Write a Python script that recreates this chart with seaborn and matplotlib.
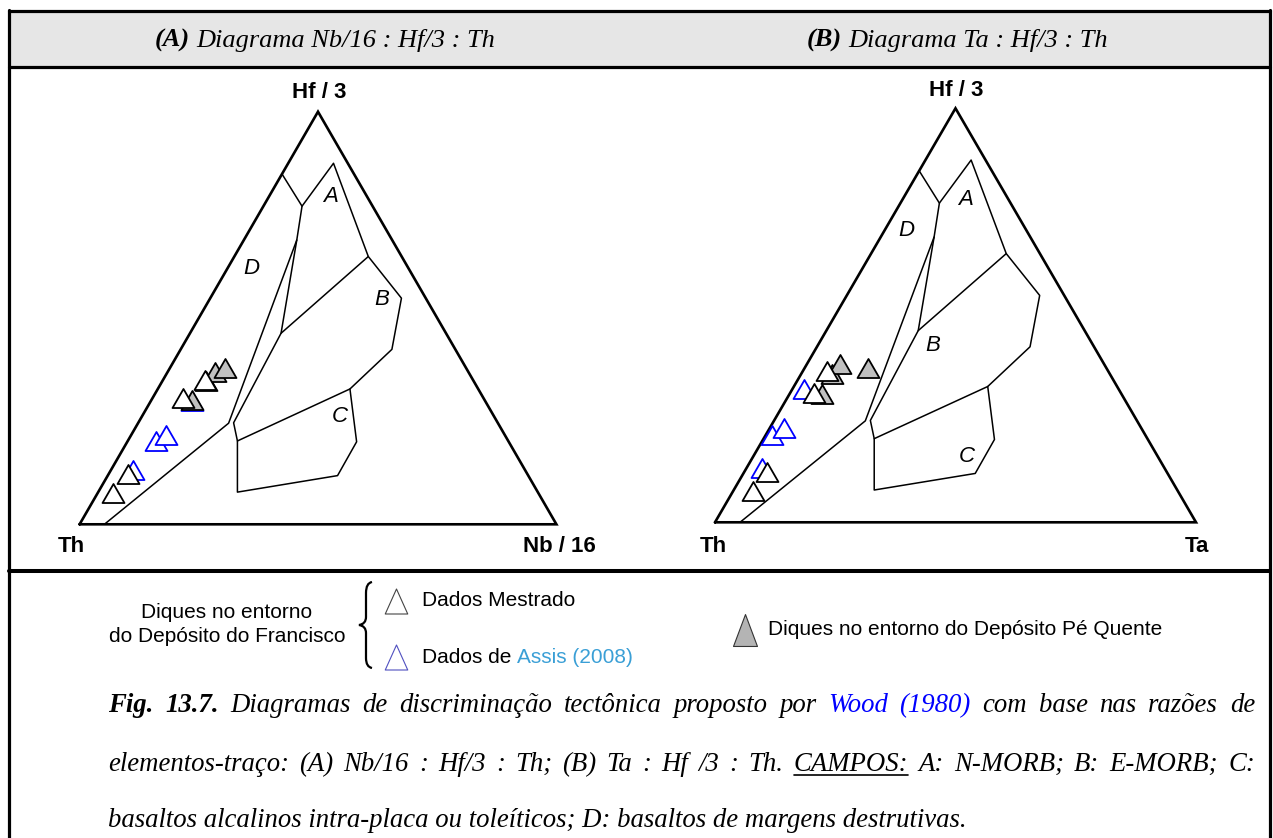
import numpy as np
import pandas as pd
import seaborn as sns
import matplotlib.pyplot as plt
from matplotlib.lines import Line2D
from matplotlib.patches import Rectangle, PathPatch
from matplotlib.path import Path

sns.set_theme(style="white")
plt.rcParams['font.family'] = ['Liberation Sans', 'DejaVu Sans']
plt.rcParams['text.color'] = 'black'

# Wood (1980) field vertices, % (Th, Hf/3, Nb/16 or Ta) - same fields in both diagrams
v_th = [15.1, 14.8, 3.0, 7.0, 5.1, 13.3, 26.9, 31.9, 40.0, 63.0, 56.8, 55.4, 34.6, 20.0, 56.5, 94.8]
v_hf = [84.9, 77.1, 87.5, 64.9, 54.8, 42.4, 32.8, 20.0, 11.8, 7.8, 20.2, 24.6, 46.3, 68.9, 24.5, 0.0]
v_nb = [0.0, 8.1, 9.5, 28.1, 40.1, 44.3, 40.3, 48.1, 48.2, 29.2, 23.0, 20.0, 19.1, 11.1, 19.0, 5.2]
# boundary polylines (vertex numbers, 1-based)
limites = [[1, 2, 14, 15, 16],
           [2, 3, 4, 5, 6, 7, 8, 9, 10, 11, 12, 13, 14],
           [13, 4],
           [11, 7]]

grupos = ["Assis"] * 4 + ["Pe Quente"] * 4 + ["Mestrado"] * 4

# (A) Nb/16 : Hf/3 : Th
a_th = [73.9, 71.0, 82.2, 61.4, 61.3, 56.2, 53.1, 50.6, 89.3, 83.8, 63.0, 56.2]
a_hf = [20.3, 21.7, 13.2, 30.0, 30.1, 34.7, 36.8, 37.8, 7.5, 12.2, 30.7, 34.9]
a_nb = [5.8, 7.3, 4.6, 8.6, 8.6, 9.1, 10.1, 11.6, 3.2, 4.0, 6.3, 8.9]

# (B) Ta : Hf/3 : Th
b_th = [65.5, 77.5, 74.2, 83.7, 62.2, 57.7, 55.0, 49.5, 88.4, 83.2, 63.9, 58.5]
b_hf = [32.1, 21.1, 22.8, 13.0, 31.0, 35.8, 38.2, 37.2, 7.5, 12.1, 31.2, 36.5]
b_ta = [2.4, 1.4, 3.0, 3.3, 6.8, 6.5, 6.8, 13.3, 4.1, 4.7, 4.9, 5.0]

W, H = 1273, 838
fig = plt.figure(figsize=(W / 100, H / 100), dpi=100)
fig.patch.set_facecolor("white")


def fx(x):
    return x / W


def fy(y):
    return 1 - y / H


def tern(th, hf, nb):
    th, hf, nb = map(np.asarray, (th, hf, nb))
    tot = th + hf + nb
    return 100 * (nb + hf / 2) / tot, 100 * hf / tot


def triangulo(larg):
    return Path([(0, 1), (-larg, -1), (larg, -1), (0, 1)], closed=True)


# frame
fig.add_artist(Rectangle((fx(9), fy(67)), fx(1270) - fx(9), fy(11) - fy(67),
                         transform=fig.transFigure, facecolor="#e6e6e6", edgecolor="none"))
for x0, y0, x1, y1, lw in [(9, 11, 1270, 11, 2.3), (9, 67, 1270, 67, 2.3), (9, 571, 1270, 571, 2.9),
                           (9, 10, 9, 838, 2.3), (1270, 10, 1270, 838, 2.3)]:
    fig.add_artist(Line2D([fx(x0), fx(x1)], [fy(y0), fy(y1)], color="black", lw=lw,
                          transform=fig.transFigure))

estilos = {"Assis": dict(color="white", edgecolor="#0000ff"),
           "Pe Quente": dict(color="#c0c0c0", edgecolor="black"),
           "Mestrado": dict(color="white", edgecolor="black")}


def diagrama(rect, th, hf, nb, letras):
    ax = fig.add_axes(rect)
    ax.set_xlim(0, 100)
    ax.set_ylim(0, 100)
    ax.set_axis_off()
    ax.plot([0, 100, 50, 0], [0, 0, 100, 0], color="black", lw=1.9, clip_on=False,
            solid_joinstyle="miter")
    vx, vy = tern(v_th, v_hf, v_nb)
    for lin in limites:
        idx = [i - 1 for i in lin]
        ax.plot(vx[idx], vy[idx], color="black", lw=1.1, clip_on=False)
    for letra, (u, v) in letras.items():
        ax.text(u, v, letra, transform=ax.transAxes, ha="center", va="center",
                fontsize=16, style="italic")
    x, y = tern(th, hf, nb)
    df = pd.DataFrame({"x": x, "y": y, "grupo": grupos})
    for k, g in enumerate(["Assis", "Pe Quente", "Mestrado"]):
        sub = df[df.grupo == g]
        sns.scatterplot(data=sub, x="x", y="y", marker=triangulo(1.155), s=250, linewidth=1.3,
                        ax=ax, legend=False, zorder=3 + k, clip_on=False, **estilos[g])
    ax.set_xlabel("")
    ax.set_ylabel("")
    return ax


diagrama([fx(79.6), fy(524.3), (556.4 - 79.6) / W, (524.3 - 111.7) / H], a_th, a_hf, a_nb,
         {"A": (0.526, 0.794), "D": (0.360, 0.620), "B": (0.634, 0.544), "C": (0.545, 0.261)})
diagrama([fx(715), fy(522.3), (1196 - 715) / W, (522.3 - 108.3) / H], b_th, b_hf, b_ta,
         {"A": (0.521, 0.779), "D": (0.397, 0.706), "B": (0.453, 0.428), "C": (0.523, 0.159)})

lab = dict(fontsize=16, weight="bold", ha="center", va="center")
fig.text(fx(319), fy(93), "Hf / 3", **lab)
fig.text(fx(71), fy(546), "Th", **lab)
fig.text(fx(559), fy(546), "Nb / 16", **lab)
fig.text(fx(956), fy(90), "Hf / 3", **lab)
fig.text(fx(713), fy(546), "Th", **lab)
fig.text(fx(1197), fy(546), "Ta", **lab)

r = fig.canvas.get_renderer()


def largura(s, **kw):
    t = fig.text(0, 0, s, **kw)
    w = t.get_window_extent(renderer=r).width
    t.remove()
    return w


def palavras(words, x0, y, x1=None, **base):
    ws = [largura(w, **{**base, **st}) for w, st in words]
    if x1 is None:
        gap = largura("a a", **base) - largura("aa", **base)
    else:
        gap = (x1 - x0 - sum(ws)) / (len(words) - 1)
    pos = []
    x = x0
    for (w, st), wd in zip(words, ws):
        fig.text(fx(x), fy(y), w, ha="left", va="baseline", **{**base, **st})
        pos.append((x, wd))
        x += wd + gap
    return pos


# header
serif = dict(family="Liberation Serif", style="italic", size=19)
bold = dict(weight="bold")
for words, xc in [([("(A)", bold), ("Diagrama Nb/16 : Hf/3 : Th", {})], 325),
                  ([("(B)", bold), ("Diagrama Ta : Hf/3 : Th", {})], 957)]:
    tot = sum(largura(w, **{**serif, **st}) for w, st in words) + \
        largura("a a", **serif) - largura("aa", **serif)
    palavras(words, xc - tot / 2, 47, **serif)

# legend
leg = dict(family="Liberation Sans", size=15)
fig.text(fx(227), fy(612), "Diques no entorno", ha="center", va="center", **leg)
fig.text(fx(227), fy(636), "do Depósito do Francisco", ha="center", va="center", **leg)
br = [(372, 582), (366, 583), (366, 593), (366, 617), (366, 624), (359, 625), (366, 626),
      (366, 633), (366, 658), (366, 667), (372, 668)]
cod = [Path.MOVETO, Path.CURVE3, Path.CURVE3, Path.LINETO, Path.CURVE3, Path.CURVE3,
       Path.CURVE3, Path.CURVE3, Path.LINETO, Path.CURVE3, Path.CURVE3]
fig.add_artist(PathPatch(Path([(fx(a), fy(b)) for a, b in br], cod), fill=False, lw=1.6,
                         edgecolor="black", transform=fig.transFigure))
fig.add_artist(Line2D([fx(396)], [fy(601)], marker=triangulo(0.9), markersize=18, mfc="white",
                      mec="#444444", mew=0.8, transform=fig.transFigure))
fig.add_artist(Line2D([fx(396)], [fy(657)], marker=triangulo(0.9), markersize=18, mfc="white",
                      mec="#5050c0", mew=0.8, transform=fig.transFigure))
fig.add_artist(Line2D([fx(745)], [fy(630)], marker=triangulo(0.75), markersize=23,
                      mfc="#b4b4b4", mec="#333333", mew=0.8, transform=fig.transFigure))
palavras([("Dados Mestrado", {})], 422, 606, **leg)
palavras([("Dados de", {}), ("Assis (2008)", dict(color="#3a9fd6"))], 422, 663, **leg)
palavras([("Diques no entorno do Depósito Pé Quente", {})], 768, 635, **leg)

# caption
linha3 = "basaltos alcalinos intra-placa ou toleíticos; D: basaltos de margens destrutivas."
fs = 18 * 860 / largura(linha3, family="Liberation Serif", style="italic", size=18)
cap = dict(family="Liberation Serif", style="italic", size=fs)
l1 = [("Fig.", bold), ("13.7.", bold)] + [(w, {}) for w in
      "Diagramas de discriminação tectônica proposto por".split()] + \
     [("Wood", dict(color="#0000ff")), ("(1980)", dict(color="#0000ff"))] + \
     [(w, {}) for w in "com base nas razões de".split()]
palavras(l1, 108, 712, 1255, **cap)
l2 = [(w, {}) for w in ("elementos-traço: (A) Nb/16 : Hf/3 : Th; (B) Ta : Hf /3 : Th. "
                        "CAMPOS: A: N-MORB; B: E-MORB; C:").split()]
p2 = palavras(l2, 108, 771, 1255, **cap)
k = [w for w, _ in l2].index("CAMPOS:")
xs, wd = p2[k]
fig.add_artist(Line2D([fx(xs), fx(xs + wd)], [fy(775), fy(775)], color="black", lw=1.2,
                      transform=fig.transFigure))
palavras([(linha3, {})], 108, 827, **cap)

fig.savefig("out.png", dpi=100)
